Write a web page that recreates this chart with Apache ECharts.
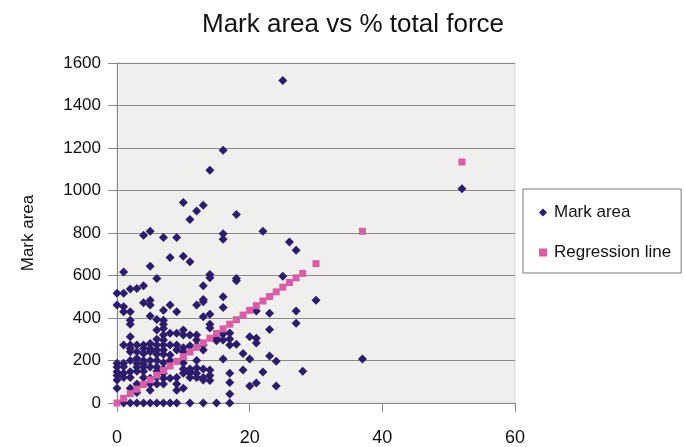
<!DOCTYPE html>
<html>
<head>
<meta charset="utf-8">
<script src="https://cdn.jsdelivr.net/npm/echarts@6/dist/echarts.min.js"></script>
<style>
html,body{margin:0;padding:0;background:#fff;}
#c{width:685px;height:447px;}
</style>
</head>
<body>
<div id="c"></div>
<script>
var titleText = 'Mark area vs % total force';
var xTicks = [0, 20, 40, 60];
var yTicks = [0, 200, 400, 600, 800, 1000, 1200, 1400, 1600];

var markArea = [
  [14,1095],[16,1190],[25,1518],[52,1008],[37,207],
  [10,943],[12,904],[13,931],[11,863],[18,887],
  [4,790],[5,808],[7,779],[9,779],[16,797],[16,771],[22,808],[26,758],[27,719],
  [8,685],[10,691],[11,665],[5,644],[1,617],[14,605],[14,589],[18,586],[18,575],[6,586],[25,597],
  [13,552],[4,552],[3,539],[2,536],[0,516],[1,516],[16,500],[30,484],
  [5,484],[5,461],[4,472],[0,461],[1,453],[12,461],[13,487],[13,476],[1,429],[2,429],[8,461],[7,437],[9,429],[16,450],
  [5,409],[6,393],[14,418],[13,406],[21,433],[23,422],[27,433],[27,375],
  [2,390],[2,371],[7,390],[7,371],[7,351],[2,312],[23,346],[20,312],[21,305],[21,282],
  [19,233],[20,207],[23,221],[24,197],[22,146],[28,150],[20,80],[21,94],[24,80],
  [19,155],[17,140],[17,97],[17,42],[16,207],[18,276],[15,304],[15,293],[16,325],[17,329],[17,301],[17,273],
  [14,371],[14,353],[10,343],[10,320],[11,320],[12,296],[12,320],[15,315],[16,296],[13,273],[13,249],
  [10,188],[11,160],[12,165],[13,160],[11,150],[14,155],[14,130],[14,106],[13,120],[13,108],[10,70],
  [1,0],[2,0],[3,0],[4,0],[5,0],[6,0],[7,0],[8,0],[9,0],[11,0],[13,0],[15,0],[17,0],
  [0,187],[0,170],[0,147],[0,130],[0,108],[0,69],
  [1,273],[1,187],[1,171],[1,140],[1,120],
  [2,273],[2,257],[2,241],[2,200],[2,147],[2,120],[2,69],
  [3,273],[3,241],[3,210],[3,187],[3,170],[3,150],[3,90],[3,50],
  [4,273],[4,257],[4,233],[4,200],[4,185],[4,170],[4,150],[4,120],
  [5,280],[5,257],[5,241],[5,200],[5,170],[5,116],[5,90],[5,60],
  [6,343],[6,300],[6,273],[6,250],[6,230],[6,200],[6,170],[6,150],[6,120],[6,90],
  [7,320],[7,296],[7,273],[7,250],[7,230],[7,190],[7,160],[7,140],[7,116],[7,90],
  [8,328],[8,273],[8,226],[8,200],[8,116],
  [9,328],[9,273],[9,250],[9,120],[9,90],[9,60],
  [10,260],[10,240],[10,160],[10,140],
  [11,270],[11,140],[11,120],
  [12,270],[12,200],[12,140],[12,120]
];

var regressionLine = [
  [0,0],[1,22],[2,44],[3,65],[4,87],[5,109],[6,131],[7,153],[8,174],[9,196],
  [10,218],[11,240],[12,262],[13,283],[14,305],[15,327],[16,349],[17,371],[18,392],[19,414],
  [20,436],[21,458],[22,480],[23,501],[24,523],[25,545],[26,567],[27,589],[28,610],
  [30,656],[37,808],[52,1134]
];

var FONT = '"Liberation Sans", Arial, sans-serif';
var chart = echarts.init(document.getElementById('c'), null, {renderer:'canvas'});
chart.setOption({
  backgroundColor: '#ffffff',
  animation: false,
  title: {
    text: titleText,
    left: 348, top: 7, textAlign: 'center',
    textStyle: {fontFamily: FONT, fontSize: 26, fontWeight: 'normal', color: '#111'}
  },
  legend: {
    orient: 'vertical',
    left: 523, top: 189, width: 159, height: 86,
    padding: [15, 10, 12, 16],
    itemGap: 23,
    itemWidth: 8, itemHeight: 8,
    backgroundColor: '#ffffff',
    borderColor: '#777', borderWidth: 1,
    textStyle: {fontFamily: FONT, fontSize: 17, color: '#111', padding: [0,0,0,2]},
    data: [
      {name: 'Mark area', icon: 'diamond', itemStyle: {color: '#2d1b6b'}},
      {name: 'Regression line', icon: 'rect', itemStyle: {color: '#d85ca6'}}
    ]
  },
  grid: {
    left: 117, right: 170, top: 63, bottom: 44,
    show: true, backgroundColor: '#f0efee', borderColor: '#d6d6d6', borderWidth: 1
  },
  xAxis: {
    type: 'value', min: xTicks[0], max: xTicks[xTicks.length-1], interval: 20,
    axisLine: {show: true, lineStyle: {color: '#888', width: 1}},
    axisTick: {show: true, length: 9, lineStyle: {color: '#888'}},
    axisLabel: {margin: 26, fontFamily: FONT, fontSize: 18, color: '#111'},
    splitLine: {show: false}
  },
  yAxis: {
    type: 'value', min: yTicks[0], max: yTicks[yTicks.length-1], interval: 200,
    name: 'Mark area', nameLocation: 'middle', nameGap: 80, nameRotate: 90,
    nameTextStyle: {fontFamily: FONT, fontSize: 17, color: '#111'},
    axisLine: {show: true, lineStyle: {color: '#888', width: 1}},
    axisTick: {show: true, length: 9, lineStyle: {color: '#888'}},
    axisLabel: {margin: 16, fontFamily: FONT, fontSize: 17, color: '#111',
      formatter: function (v) { return String(v); }},
    splitLine: {show: true, lineStyle: {color: '#8a8a8a', width: 1.2}}
  },
  series: [
    {
      name: 'Mark area', type: 'scatter', data: markArea,
      symbol: 'diamond', symbolSize: 9,
      itemStyle: {color: '#2d1b6b', opacity: 1}
    },
    {
      name: 'Regression line', type: 'scatter', data: regressionLine,
      symbol: 'rect', symbolSize: 7, z: 3,
      itemStyle: {color: '#d85ca6', opacity: 1}
    }
  ]
});
</script>
</body>
</html>
